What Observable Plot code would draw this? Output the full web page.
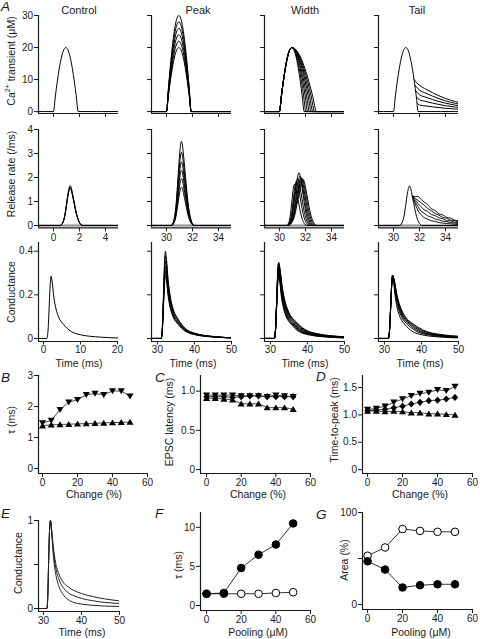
<!DOCTYPE html>
<html><head><meta charset="utf-8">
<script src="https://cdn.jsdelivr.net/npm/d3@7"></script>
<script src="https://cdn.jsdelivr.net/npm/@observablehq/plot@0.6"></script>
<style>
body{margin:0;background:#fff;}
#fig{position:relative;width:480px;height:639px;overflow:hidden;background:#fff;}
#fig > svg{position:absolute;}
</style></head><body><div id="fig"></div>
<script>
// ================= DATA =================
// --- Row A1: Ca2+ transient (µM) ---
const caT = [-1.5, 0, 0.15, 0.3, 0.45, 0.6, 0.75, 0.95, 1.15, 1.3, 1.45, 1.6, 1.75, 1.9, 5.5];
const caV = [0, 0, 4.9, 9.5, 13.5, 16.7, 18.9, 20, 18.9, 16.7, 13.5, 9.5, 4.9, 0, 0];
const caPeakTime = 0.95, caBaseFall = 0.95, caShift = 30;
const caPeakLevels = [20, 22, 24, 26, 28, 30];
const caWidthFall = [0.95, 1.08, 1.22, 1.35, 1.49, 1.62, 1.76, 1.9];
const caTailBranchT = [31.58, 31.66, 31.73, 31.79, 31.85];
const caTailBranchV = [10, 8.2, 6.4, 4.5, 2.5];
const caTailScale = [1, 0.82, 0.64, 0.45, 0.25];
const caTailT = [32, 32.5, 33, 34, 35.5];
const caTailTop = [8.2, 7.0, 5.9, 4.1, 2.4];

// --- Row A2: Release rate (/ms) ---
const relT = [-1.5, 0.5, 0.7, 0.85, 1.0, 1.1, 1.2, 1.28, 1.36, 1.45, 1.6, 1.75, 1.9, 2.05, 2.25, 5.5];
const relV = [0, 0, 0.1, 0.35, 0.85, 1.22, 1.5, 1.6, 1.53, 1.32, 0.92, 0.52, 0.24, 0.08, 0, 0];
const relPeakTime = 1.28, relBaseRise = 0.78, relBaseFall = 0.97, relBasePeak = 1.6;
const relControlLevels = [1.55, 1.6, 1.66];
const relPeakShift = 29.87;
const relPeakLevels = [1.6, 1.95, 2.3, 2.65, 3.05, 3.5];
const relWidthPeakT = [31.15, 31.3, 31.4, 31.5, 31.58, 31.66, 31.74, 31.82];
const relWidthPeakV = [1.72, 1.85, 1.95, 2.2, 2.05, 2.0, 1.95, 1.92];
const relWidthRise = [0.6, 0.72, 0.8, 0.88, 0.95, 1.02, 1.1, 1.18];
const relWidthFall = [0.95, 0.98, 1.0, 0.97, 1.0, 1.02, 1.04, 1.06];
const relTailShift = 29.95, relTailLevel = 1.65;
const relTailT = [31.45, 31.7, 31.9, 32.1, 32.35, 32.6, 32.9, 33.2, 33.5, 33.8, 34.1, 34.4, 34.7, 35.0];
const relTail1 = [1.22, 1.2, 1.22, 1.1, 0.98, 0.88, 0.7, 0.62, 0.48, 0.44, 0.33, 0.31, 0.22, 0.2];
const relTail2 = [1.22, 1.12, 1.04, 0.95, 0.86, 0.72, 0.62, 0.5, 0.43, 0.33, 0.3, 0.22, 0.21, 0.15];
const relTail3 = [1.22, 1.05, 0.9, 0.8, 0.65, 0.6, 0.46, 0.41, 0.32, 0.28, 0.2, 0.19, 0.14, 0.12];
const relTail4 = [1.22, 0.95, 0.78, 0.6, 0.52, 0.41, 0.35, 0.27, 0.23, 0.18, 0.16, 0.12, 0.1, 0.08];
const relTail5 = [1.22, 0.85, 0.6, 0.46, 0.33, 0.27, 0.2, 0.17, 0.12, 0.1, 0.08, 0.07, 0.05, 0.04];

// --- Row A3: Conductance ---
const condT = [-2, 0.9, 1.2, 1.5, 1.8, 2.05, 2.3, 2.8, 3.4, 4.1, 5.5, 7.3, 10, 15.4, 21];
const condV = [0, 0, 0.03, 0.13, 0.24, 0.285, 0.265, 0.19, 0.135, 0.098, 0.063, 0.034, 0.017, 0.006, 0.002];
const condPeakTime = 2.05, condBasePeak = 0.285;
const condPeakShift = 30.1;
const condPeakLevels = [0.29, 0.31, 0.33, 0.355, 0.38, 0.40];
const condWidthShift = 30.15;
const condWidthLevels = [0.29, 0.30, 0.31, 0.32, 0.33, 0.34, 0.345, 0.35];
const condWidthStretch = [1, 1.05, 1.1, 1.15, 1.2, 1.25, 1.3, 1.35];
const condTailShift = 30.15;
const condTailLevels = [0.28, 0.285, 0.29, 0.29, 0.29, 0.29];
const condTailStretch = [1, 1.2, 1.32, 1.44, 1.56, 1.68];

// --- B, C, D: vs Change (%) ---
const changePct = [0, 5, 10, 15, 20, 25, 30, 35, 40, 45, 50];
const tauWidth = [1.47, 1.55, 1.90, 2.14, 2.22, 2.38, 2.42, 2.38, 2.50, 2.50, 2.33];
const tauPeak = [1.38, 1.41, 1.42, 1.43, 1.44, 1.45, 1.46, 1.47, 1.48, 1.49, 1.50];
const latWidth = [0.95, 0.95, 0.95, 0.95, 0.94, 0.94, 0.94, 0.93, 0.95, 0.94, 0.93];
const latTail = [0.93, 0.93, 0.93, 0.92, 0.93, 0.94, 0.94, 0.93, 0.93, 0.93, 0.93];
const latPeak = [0.91, 0.91, 0.90, 0.89, 0.84, 0.84, 0.84, 0.79, 0.79, 0.79, 0.77];
const ttpWidth = [1.10, 1.12, 1.16, 1.23, 1.29, 1.35, 1.39, 1.41, 1.46, 1.44, 1.52];
const ttpTail = [1.08, 1.09, 1.10, 1.13, 1.16, 1.20, 1.23, 1.26, 1.27, 1.29, 1.32];
const ttpPeak = [1.07, 1.07, 1.06, 1.07, 1.06, 1.04, 1.04, 1.02, 1.02, 1.01, 1.00];

// --- E: normalized conductance ---
const eT = [28, 30.9, 31.15, 31.4, 31.65, 31.85, 32.1, 32.6, 33.2, 34, 35, 36.5, 38, 40, 43, 46, 50];
const e1 = [0, 0, 0.15, 0.6, 0.93, 1.0, 0.92, 0.70, 0.52, 0.40, 0.31, 0.245, 0.205, 0.17, 0.135, 0.11, 0.087];
const e2 = [0, 0, 0.15, 0.6, 0.93, 1.0, 0.91, 0.66, 0.47, 0.34, 0.25, 0.18, 0.145, 0.115, 0.088, 0.07, 0.057];
const e3 = [0, 0, 0.15, 0.6, 0.93, 1.0, 0.90, 0.60, 0.40, 0.26, 0.17, 0.10, 0.068, 0.05, 0.036, 0.028, 0.023];

// --- F, G: vs Pooling (µM) ---
const poolUM = [0, 10, 20, 30, 40, 50];
const tauFilled = [1.5, 1.6, 4.8, 6.5, 7.8, 10.5];
const tauOpen = [1.5, 1.5, 1.5, 1.5, 1.6, 1.7];
const areaOpen = [53, 62, 82, 80, 79, 79];
const areaFilled = [47, 38, 18.5, 21, 22, 22];

// ================= HELPERS =================
const FONT = "'Liberation Sans', Arial, Helvetica, sans-serif";
const INK = "#1a1a1a";
const fig = document.getElementById("fig");

function shapeCurve(ts, vs, o, k) {
  const {shift = 0, scale = 1, tp = 0, rise = 1, fall = 1} = o;
  return ts.map((t, j) => {
    let tt = t;
    if (j > 0) tt = t <= tp ? tp - (tp - t) * rise : tp + (t - tp) * fall;
    return {t: tt + shift, v: vs[j] * scale, k};
  });
}
const pts = (ts, vs, k) => ts.map((t, i) => ({t, v: vs[i], k}));

const curve = (data, extra = {}) => Plot.line(data, {x: "t", y: "v", z: "k", stroke: "black", strokeWidth: 1, curve: "monotone-x", clip: true, ...extra});

function panel(c) {
  const mL = 34, mR = 10, mT = 6, mB = 18;
  const w = c.x1 - c.x0 + mL + mR, h = c.yB - c.yT + mT + mB;
  const fmtX = c.xLab ? (c.xFmt || (d => String(d))) : () => "";
  const fmtY = c.yLab ? (c.yFmt || (d => String(d))) : () => "";
  const svg = Plot.plot({
    width: w, height: h, marginLeft: mL, marginRight: mR, marginTop: mT, marginBottom: mB,
    style: {fontFamily: FONT, fontSize: "10px", color: INK, background: "transparent", overflow: "visible"},
    x: {domain: c.xd}, y: {domain: c.yd},
    marks: [
      ...c.marks,
      Plot.axisX({ticks: c.xt, tickSize: c.xTickSize ?? 4, tickPadding: c.xPad ?? 1.5, tickFormat: fmtX, label: null, strokeWidth: 1}),
      Plot.axisY({ticks: c.yt, tickSize: 4, tickPadding: 1.5, tickFormat: fmtY, label: null, strokeWidth: 1}),
      Plot.ruleX([c.xd[0]], {stroke: INK, strokeWidth: 1.2}),
      Plot.ruleY([c.yd[0]], {stroke: INK, strokeWidth: 1.2})
    ]
  });
  svg.style.left = (c.x0 - mL) + "px";
  svg.style.top = (c.yT - mT) + "px";
  svg.style.position = "absolute";
  fig.appendChild(svg);
}

// custom filled markers
const triUp = {draw(ctx, size) { const r = Math.sqrt(size / Math.PI); ctx.moveTo(0, -0.95 * r); ctx.lineTo(1.05 * r, 0.8 * r); ctx.lineTo(-1.05 * r, 0.8 * r); ctx.closePath(); }};
const triDown = {draw(ctx, size) { const r = Math.sqrt(size / Math.PI); ctx.moveTo(0, 0.95 * r); ctx.lineTo(1.05 * r, -0.8 * r); ctx.lineTo(-1.05 * r, -0.8 * r); ctx.closePath(); }};
const diamond = {draw(ctx, size) { const r = Math.sqrt(size / Math.PI); ctx.moveTo(0, -1.05 * r); ctx.lineTo(0.95 * r, 0); ctx.lineTo(0, 1.05 * r); ctx.lineTo(-0.95 * r, 0); ctx.closePath(); }};

function series(xs, ys, sym) {
  const d = xs.map((x, i) => ({x, y: ys[i]}));
  return [Plot.line(d, {x: "x", y: "y", stroke: INK, strokeWidth: 0.8}),
          Plot.dot(d, {x: "x", y: "y", symbol: sym, r: 3.4, fill: "black", stroke: "none"})];
}
function circles(xs, ys, filled) {
  const d = xs.map((x, i) => ({x, y: ys[i]}));
  return [Plot.line(d, {x: "x", y: "y", stroke: INK, strokeWidth: 0.9}),
          Plot.dot(d, {x: "x", y: "y", r: 3.8, fill: filled ? "black" : "white", stroke: "black", strokeWidth: 1})];
}

// ================= ROW A1 =================
const colX0 = [38, 151, 264, 378];
const rowA1 = {yT: 15, yB: 113, yd: [-0.6, 30], yt: [0, 10, 20, 30]};
const caCtrl = shapeCurve(caT, caV, {tp: caPeakTime}, 0);
const caMax = d3.max(caV);
const caPeak = caPeakLevels.flatMap((p, i) => shapeCurve(caT, caV, {shift: caShift, scale: p / caMax, tp: caPeakTime}, i));
const caWidth = caWidthFall.flatMap((f, i) => shapeCurve(caT, caV, {shift: caShift, tp: caPeakTime, fall: f / caBaseFall}, i));
const caTailBase = shapeCurve(caT, caV, {shift: caShift, tp: caPeakTime}, "b");
const caTails = caTailScale.flatMap((s, i) => [{t: caTailBranchT[i], v: caTailBranchV[i], k: i}, ...caTailT.map((t, j) => ({t, v: caTailTop[j] * s, k: i}))]);

panel({...rowA1, x0: colX0[0], x1: colX0[0] + 80, xd: [-1.15, 5], xt: [0, 2, 4], xLab: false, yLab: true, marks: [curve(caCtrl)]});
panel({...rowA1, x0: colX0[1], x1: colX0[1] + 80, xd: [28.85, 35], xt: [30, 32, 34], marks: [curve(caPeak)]});
panel({...rowA1, x0: colX0[2], x1: colX0[2] + 80, xd: [28.85, 35], xt: [30, 32, 34], marks: [curve(caWidth)]});
panel({...rowA1, x0: colX0[3], x1: colX0[3] + 80, xd: [28.85, 35], xt: [30, 32, 34], marks: [curve(caTailBase), curve(caTails)]});

// ================= ROW A2 =================
const rowA2 = {yT: 129, yB: 227.4, yd: [-0.1, 4], yt: [0, 1, 2, 3, 4], xLab: true};
const base0 = () => Plot.ruleY([0], {stroke: "#8c8c8c", strokeWidth: 2});
const relCtrl = relControlLevels.flatMap((p, i) => shapeCurve(relT, relV, {scale: p / relBasePeak, tp: relPeakTime}, i));
const relPeak = relPeakLevels.flatMap((p, i) => shapeCurve(relT, relV, {shift: relPeakShift, scale: p / relBasePeak, tp: relPeakTime}, i));
const relWidth = relWidthPeakT.flatMap((pt, i) => shapeCurve(relT, relV, {shift: pt - relPeakTime, scale: relWidthPeakV[i] / relBasePeak, tp: relPeakTime, rise: relWidthRise[i] / relBaseRise, fall: relWidthFall[i] / relBaseFall}, i));
const relTailBase = shapeCurve(relT, relV, {shift: relTailShift, scale: relTailLevel / relBasePeak, tp: relPeakTime}, "b");
const relTails = [relTail1, relTail2, relTail3, relTail4, relTail5].flatMap((vs, i) => pts(relTailT, vs, i));

panel({...rowA2, x0: colX0[0], x1: colX0[0] + 80, xd: [-1.15, 5], xt: [0, 2, 4], yLab: true, marks: [base0(), curve(relCtrl)]});
panel({...rowA2, x0: colX0[1], x1: colX0[1] + 80, xd: [28.85, 35], xt: [30, 32, 34], marks: [base0(), curve(relPeak)]});
panel({...rowA2, x0: colX0[2], x1: colX0[2] + 80, xd: [28.85, 35], xt: [30, 32, 34], marks: [base0(), curve(relWidth)]});
panel({...rowA2, x0: colX0[3], x1: colX0[3] + 80, xd: [28.85, 35], xt: [30, 32, 34], marks: [base0(), curve(relTailBase), curve(relTails, {curve: "linear", strokeWidth: 0.9})]});

// ================= ROW A3 =================
const rowA3 = {yT: 242, yB: 341, yd: [-0.014, 0.44], yt: [0, 0.2, 0.4], xLab: true, xTickSize: 3.5, xPad: 0.5};
const condCtrl = shapeCurve(condT, condV, {tp: condPeakTime}, 0);
const condPeak = condPeakLevels.flatMap((p, i) => shapeCurve(condT, condV, {shift: condPeakShift, scale: p / condBasePeak, tp: condPeakTime}, i));
const condWidth = condWidthLevels.flatMap((p, i) => shapeCurve(condT, condV, {shift: condWidthShift, scale: p / condBasePeak, tp: condPeakTime, fall: condWidthStretch[i]}, i));
const condTail = condTailLevels.flatMap((p, i) => shapeCurve(condT, condV, {shift: condTailShift, scale: p / condBasePeak, tp: condPeakTime, fall: condTailStretch[i]}, i));

panel({...rowA3, x0: colX0[0], x1: colX0[0] + 80, xd: [-1.35, 20.3], xt: [0, 10, 20], yLab: true, marks: [curve(condCtrl)]});
panel({...rowA3, x0: colX0[1], x1: colX0[1] + 80, xd: [28.4, 50], xt: [30, 40, 50], marks: [curve(condPeak)]});
panel({...rowA3, x0: colX0[2], x1: colX0[2] + 80, xd: [28.4, 50], xt: [30, 40, 50], marks: [curve(condWidth)]});
panel({...rowA3, x0: colX0[3], x1: colX0[3] + 80, xd: [28.4, 50], xt: [30, 40, 50], marks: [curve(condTail)]});

// ================= ROW B C D =================
const rowB = {yT: 375, yB: 473, xt: [0, 20, 40, 60], xLab: true, yLab: true};
const fmt1 = d => d === 0 ? "0" : d.toFixed(1);
panel({...rowB, x0: 38, x1: 147, xd: [-2.3, 60], yd: [-0.16, 3], yt: [0, 1, 2, 3],
  marks: [...series(changePct, tauPeak, triUp), ...series(changePct, tauWidth, triDown)]});
panel({...rowB, x0: 200, x1: 310, xd: [-3.5, 60], yd: [-0.05, 1.2], yt: [0, 0.5, 1.0], yFmt: fmt1,
  marks: [...series(changePct, latPeak, triUp), ...series(changePct, latTail, diamond), ...series(changePct, latWidth, triDown)]});
panel({...rowB, x0: 362, x1: 472, xd: [-2.9, 60], yd: [-0.07, 1.72], yt: [0, 0.5, 1.0, 1.5], yFmt: fmt1,
  marks: [...series(changePct, ttpPeak, triUp), ...series(changePct, ttpTail, diamond), ...series(changePct, ttpWidth, triDown)]});

// ================= ROW E F G =================
panel({x0: 38, x1: 119, yT: 520, yB: 611, xd: [28.7, 50], yd: [-0.034, 1.0], xt: [30, 40, 50], yt: [0, 0.5, 1], xLab: true, yLab: true,
  yFmt: d => d === 0.5 ? "" : String(d),
  marks: [curve([...pts(eT, e1, 1), ...pts(eT, e2, 2), ...pts(eT, e3, 3)], {stroke: "#222"})]});
panel({x0: 200, x1: 310, yT: 512, yB: 610, xd: [-3.5, 60], yd: [-0.64, 11.9], xt: [0, 20, 40, 60], yt: [0, 5, 10], xLab: true, yLab: true,
  marks: [...circles(poolUM, tauOpen, false), ...circles(poolUM, tauFilled, true)]});
panel({x0: 362, x1: 472, yT: 512, yB: 609, xd: [-2.9, 60], yd: [-5.4, 100], xt: [0, 20, 40, 60], yt: [0, 50, 100], xLab: true, yLab: true,
  yFmt: d => d === 50 ? "" : String(d),
  marks: [...circles(poolUM, areaOpen, false), ...circles(poolUM, areaFilled, true)]});

// ================= TEXT OVERLAY =================
const ov = d3.select(fig).append("svg").attr("width", 480).attr("height", 639)
  .style("position", "absolute").style("left", "0px").style("top", "0px")
  .attr("font-family", FONT).attr("fill", INK);
function txt(s, x, y, size = 10.5, italic = false, anchor = "middle") {
  const t = ov.append("text").attr("x", x).attr("y", y).attr("text-anchor", anchor).attr("font-size", size).text(s);
  if (italic) t.attr("font-style", "italic");
  return t;
}
function vtxt(s, x, y, size = 10.5) {
  return ov.append("text").attr("transform", `translate(${x},${y}) rotate(-90)`).attr("text-anchor", "middle")
    .attr("dominant-baseline", "central").attr("font-size", size).text(s);
}
// column titles
[["Control", 79], ["Peak", 198], ["Width", 305], ["Tail", 417]].forEach(([s, x]) => txt(s, x, 14, 11));
// panel letters
[["A", 1, 11], ["B", 1, 382], ["C", 155, 382], ["D", 316, 381], ["E", 1, 518], ["F", 155, 518], ["G", 316, 519]]
  .forEach(([s, x, y]) => txt(s, x, y, 13.5, true, "start"));
// x axis labels
[79, 193, 305, 420].forEach(x => txt("Time (ms)", x, 366.5));
[94, 258, 420].forEach(x => txt("Change (%)", x, 498));
txt("Time (ms)", 82, 636);
txt("Pooling (μM)", 258, 636);
txt("Pooling (μM)", 421, 636);
// y axis labels
const caLab = ov.append("text").attr("transform", "translate(11,61) rotate(-90)").attr("text-anchor", "middle")
  .attr("dominant-baseline", "central").attr("font-size", 10.5);
caLab.append("tspan").text("Ca");
caLab.append("tspan").attr("font-size", 7).attr("dy", -4).text("2+");
caLab.append("tspan").attr("dy", 4).text(" transient (μM)");
vtxt("Release rate (/ms)", 11, 174);
vtxt("Conductance", 11, 292);
vtxt("τ (ms)", 11, 420);
vtxt("EPSC latency (ms)", 169, 422);
vtxt("Time-to-peak (ms)", 334, 420);
vtxt("Conductance", 18, 563);
vtxt("τ (ms)", 178, 565);
vtxt("Area (%)", 344, 560);
</script></body></html>
